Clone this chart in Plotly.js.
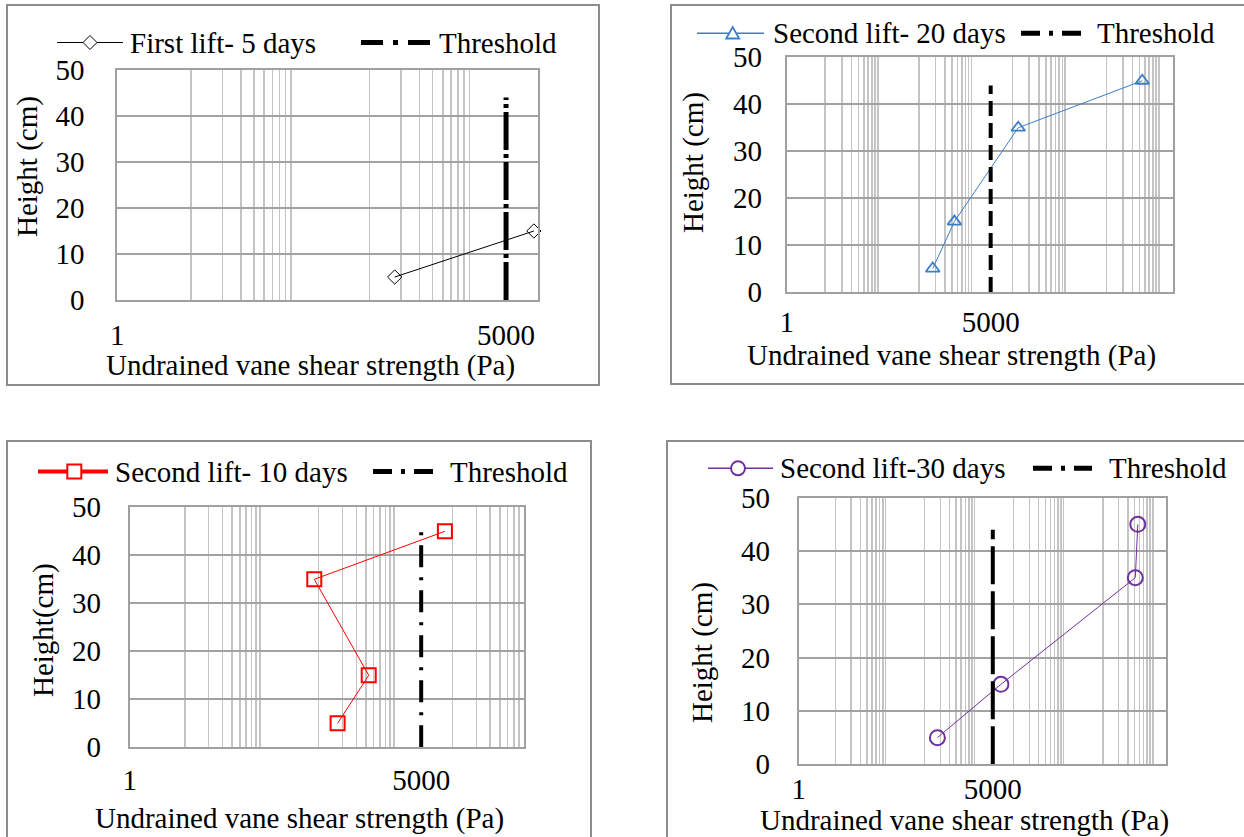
<!DOCTYPE html>
<html>
<head>
<meta charset="utf-8">
<script src="https://cdn.plot.ly/plotly-3.0.1.min.js"></script>
<style>
  html, body { margin: 0; padding: 0; background: #ffffff; }
  #chart { width: 1244px; height: 837px; }
</style>
</head>
<body>
<div id="chart"></div>
<script>
// ---------------- DATA ----------------
const heightsFirst = [5, 15];
const strengthFirst5 = [436, 9200];             // First lift- 5 days (Pa)
const heightsSecond = [5, 15, 35, 45];
const strengthSecond20 = [445, 1100, 15800, 2800000];  // Second lift- 20 days
const strengthSecond10 = [435, 1080, 220, 10000];      // Second lift- 10 days
const strengthSecond30 = [440, 7150, 2600000, 2900000];// Second lift-30 days
const thresholdX = [5000, 5000];
const thresholdY_TL = [0, 44];
const thresholdY_TR = [0, 44];
const thresholdY_BL = [0, 45];
const thresholdY_BR = [0, 44];
const xTickVals = [1, 5000];
const xTickText = ['1', '5000'];
const yTickVals = [0, 10, 20, 30, 40, 50];

const seriesNames = ['First lift- 5 days', 'Second lift- 20 days', 'Second lift- 10 days', 'Second lift-30 days'];
const thresholdName = 'Threshold';
const xTitle = 'Undrained vane shear strength (Pa)';
const yTitles = ['Height (cm)', 'Height (cm)', 'Height(cm)', 'Height (cm)'];

// ---------------- STYLE / LAYOUT HELPERS ----------------
const W = 1244, H = 837;
const FONT = "'Liberation Serif', 'Times New Roman', serif";
const FS = 29;
const px = x => x / W;
const py = y => 1 - y / H;

// Excel-like minor gridline positions (log axis)
function minorGrid(maxExp) {
  const out = [];
  for (let n = 0; n < 4; n++) {
    const base = 5 * Math.pow(50, n);
    for (let k = 1; k <= 9; k++) {
      const v = base * k;
      if (Math.log10(v) < maxExp - 1e-6) out.push(v);
    }
  }
  return out;
}

function xAxis(dom, maxExp, anchor, standoff) {
  return {
    type: 'log', range: [0, maxExp], domain: dom, anchor: anchor,
    tickmode: 'array', tickvals: xTickVals, ticktext: xTickText,
    showgrid: false, zeroline: false,
    showline: true, mirror: true, linecolor: '#a0a0a0', linewidth: 2,
    ticks: '', ticklabelstandoff: standoff,
    tickfont: { family: FONT, size: FS, color: '#000' },
    minor: { tickmode: 'array', tickvals: minorGrid(maxExp), showgrid: true,
             gridcolor: '#c4c4c4', gridwidth: 1.5, ticks: '' }
  };
}
function yAxis(dom, anchor, standoff) {
  return {
    range: [0, 50], domain: dom, anchor: anchor,
    tickmode: 'array', tickvals: yTickVals,
    showgrid: true, gridcolor: '#a2a2a2', gridwidth: 2, zeroline: false,
    showline: true, mirror: true, linecolor: '#a0a0a0', linewidth: 2,
    ticks: '', ticklabelstandoff: standoff,
    tickfont: { family: FONT, size: FS, color: '#000' }
  };
}

// ---------------- TRACES ----------------
const traces = [
  { x: strengthFirst5, y: heightsFirst, xaxis: 'x', yaxis: 'y', mode: 'lines+markers',
    line: { color: '#000000', width: 1 },
    marker: { symbol: 'diamond-open', size: 11, color: '#000000', line: { width: 1, color: '#000000' } } },
  { x: thresholdX, y: thresholdY_TL, xaxis: 'x', yaxis: 'y', mode: 'lines',
    line: { color: '#000000', width: 5, dash: '38px,4px,4px,4px' } },

  { x: strengthSecond20, y: heightsSecond, xaxis: 'x2', yaxis: 'y2', mode: 'lines+markers',
    line: { color: '#3d7fc6', width: 1 },
    marker: { symbol: 'triangle-up-open', size: 12, color: '#3d7fc6', line: { width: 1.8, color: '#3d7fc6' } } },
  { x: thresholdX, y: thresholdY_TR, xaxis: 'x2', yaxis: 'y2', mode: 'lines',
    line: { color: '#000000', width: 4, dash: '15px,7px' } },

  { x: strengthSecond10, y: heightsSecond, xaxis: 'x3', yaxis: 'y3', mode: 'lines+markers',
    line: { color: '#ff0000', width: 1 },
    marker: { symbol: 'square-open', size: 14, color: '#ff0000', line: { width: 2, color: '#ff0000' } } },
  { x: thresholdX, y: thresholdY_BL, xaxis: 'x3', yaxis: 'y3', mode: 'lines',
    line: { color: '#000000', width: 4, dash: '22px,10px,3px,10px' } },

  { x: strengthSecond30, y: heightsSecond, xaxis: 'x4', yaxis: 'y4', mode: 'lines+markers',
    line: { color: '#7030a0', width: 1 },
    marker: { symbol: 'circle-open', size: 15, color: '#7030a0', line: { width: 2, color: '#7030a0' } } },
  { x: thresholdX, y: thresholdY_BR, xaxis: 'x4', yaxis: 'y4', mode: 'lines',
    line: { color: '#000000', width: 4, dash: '38px,7px' } }
];
traces.forEach(t => { t.showlegend = false; t.cliponaxis = false; t.hoverinfo = 'skip'; });

// ---------------- SHAPES (chart borders + legend keys) ----------------
const shapes = [];
function rectPx(x0, y0, x1, y1, color, width, fill) {
  shapes.push({ type: 'rect', xref: 'paper', yref: 'paper', x0: px(x0), x1: px(x1), y0: py(y0), y1: py(y1),
                line: { color: color, width: width }, fillcolor: fill || 'rgba(0,0,0,0)' });
}
function linePx(x0, y0, x1, y1, color, width, dash) {
  shapes.push({ type: 'line', xref: 'paper', yref: 'paper', x0: px(x0), x1: px(x1), y0: py(y0), y1: py(y1),
                line: { color: color, width: width, dash: dash || 'solid' } });
}
function pathPx(pts, color, width) {
  const d = pts.map((p, i) => (i ? 'L' : 'M') + px(p[0]).toFixed(5) + ',' + py(p[1]).toFixed(5)).join(' ') + ' Z';
  shapes.push({ type: 'path', xref: 'paper', yref: 'paper', path: d, line: { color: color, width: width },
                fillcolor: '#ffffff' });
}
function circlePx(cx, cy, r, color, width) {
  shapes.push({ type: 'circle', xref: 'paper', yref: 'paper', x0: px(cx - r), x1: px(cx + r), y0: py(cy - r), y1: py(cy + r),
                line: { color: color, width: width }, fillcolor: '#ffffff' });
}

// chart-area borders
rectPx(7, 5, 599, 385, '#8c8c8c', 2);
rectPx(671, 5, 1250, 384, '#8c8c8c', 2);
rectPx(7, 441, 591, 850, '#8c8c8c', 2);
rectPx(667, 441, 1250, 850, '#8c8c8c', 2);

// legend keys
// TL
linePx(57, 42.5, 123, 42.5, '#000000', 1);
pathPx([[83, 42.5], [90, 35.5], [97, 42.5], [90, 49.5]], '#000000', 1);
linePx(361, 42.5, 430, 42.5, '#000000', 5, '22px,10px,5px,10px');
// TR
linePx(697, 33.3, 764, 33.3, '#3d7fc6', 1.5);
pathPx([[726.2, 38.5], [739.2, 38.5], [732.7, 27]], '#3d7fc6', 1.8);
linePx(1021, 33.3, 1081, 33.3, '#000000', 5, '19px,9px,4px,9px');
// BL
linePx(38, 471.6, 108, 471.6, '#ff0000', 4);
rectPx(67.3, 464.6, 81.3, 478.6, '#ff0000', 2, '#ffffff');
linePx(373, 471.6, 433, 471.6, '#000000', 5, '19px,9px,4px,9px');
// BR
linePx(708, 468.3, 773, 468.3, '#7030a0', 1.5);
circlePx(738, 468.3, 7, '#7030a0', 2);
linePx(1033, 468.3, 1092, 468.3, '#000000', 5, '19px,9px,4px,9px');

// ---------------- ANNOTATIONS (legend texts + axis titles) ----------------
const annotations = [];
function textPx(text, x, y, xanchor, angle) {
  annotations.push({ text: text, xref: 'paper', yref: 'paper', x: px(x), y: py(y),
                     xanchor: xanchor, yanchor: 'middle', showarrow: false, textangle: angle || 0,
                     borderpad: 0, font: { family: FONT, size: FS, color: '#000000' } });
}
textPx(seriesNames[0], 129, 42.5, 'left');
textPx(thresholdName, 438, 42.5, 'left');
textPx(seriesNames[1], 772, 33.3, 'left');
textPx(thresholdName, 1096, 33.3, 'left');
textPx(seriesNames[2], 114, 471.6, 'left');
textPx(thresholdName, 449, 471.6, 'left');
textPx(seriesNames[3], 779, 468.3, 'left');
textPx(thresholdName, 1108, 468.3, 'left');

textPx(xTitle, 310, 365, 'center');
textPx(xTitle, 951, 355, 'center');
textPx(xTitle, 299, 818, 'center');
textPx(xTitle, 964.5, 820, 'center');

textPx(yTitles[0], 28, 167, 'center', -90);
textPx(yTitles[1], 693, 163, 'center', -90);
textPx(yTitles[2], 43, 630, 'center', -90);
textPx(yTitles[3], 702, 653, 'center', -90);

// ---------------- LAYOUT ----------------
const layout = {
  width: W, height: H,
  margin: { l: 0, r: 0, t: 0, b: 0, pad: 0 },
  paper_bgcolor: '#ffffff', plot_bgcolor: '#ffffff',
  showlegend: false, hovermode: false,
  font: { family: FONT, size: FS, color: '#000000' },
  xaxis:  xAxis([px(117.3), px(537.7)], 4, 'y', 8),
  yaxis:  yAxis([py(300), py(70)], 'x', 25),
  xaxis2: xAxis([px(786.7), px(1172.7)], 7, 'y2', 3),
  yaxis2: yAxis([py(292), py(57.3)], 'x2', 17),
  xaxis3: xAxis([px(129.7), px(523.7)], 5, 'y3', 6),
  yaxis3: yAxis([py(747.3), py(507.3)], 'x3', 21),
  xaxis4: xAxis([px(798.7), px(1166)], 7, 'y4', -2),
  yaxis4: yAxis([py(764.3), py(497.7)], 'x4', 21),
  shapes: shapes,
  annotations: annotations
};

Plotly.newPlot('chart', traces, layout, { displayModeBar: false, staticPlot: true });
</script>
</body>
</html>
